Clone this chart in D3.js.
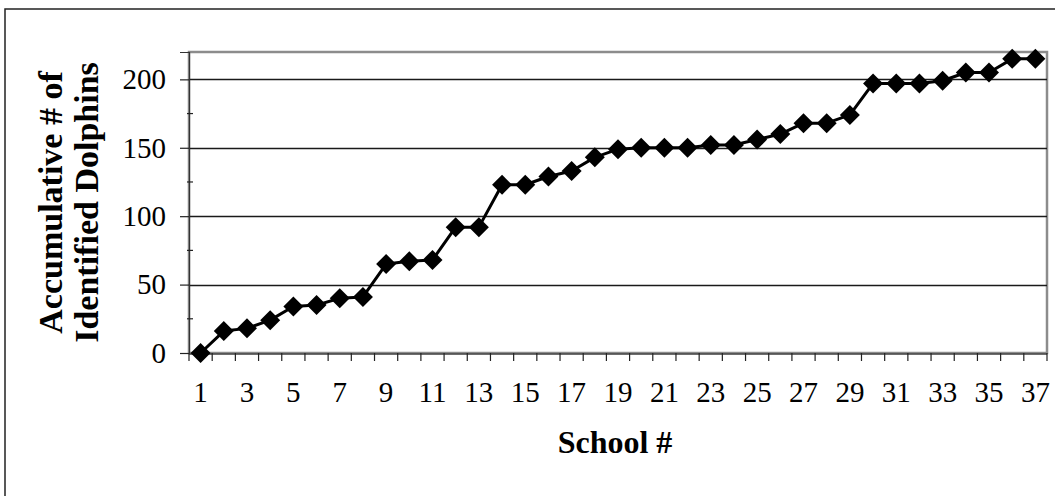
<!DOCTYPE html>
<html>
<head>
<meta charset="utf-8">
<script src="https://cdn.jsdelivr.net/npm/d3@7"></script>
<style>
  html, body { margin: 0; padding: 0; background: #fff; }
  svg { display: block; }
</style>
</head>
<body>
<svg id="chart" width="1055" height="496"></svg>
<script>
// ---- data ----
const schools = d3.range(1, 38);            // School # 1..37
const dolphins = [0, 16, 18, 24, 34, 35, 40, 41, 65, 67, 68, 92, 92, 123, 123, 129, 133, 143, 149, 150,
                  150, 150, 152, 152, 156, 160, 168, 168, 174, 197, 197, 197, 199, 205, 205, 215, 215];
const yTicks = [0, 50, 100, 150, 200];
const yMinorTicks = [25, 75, 125, 175];
const xLabelTicks = schools.filter(d => d % 2 === 1);
const yTitleLines = ["Accumulative # of", "Identified Dolphins"];
const xTitle = "School #";

const svg = d3.select("#chart");
const plot = { left: 189, right: 1047, top: 52, bottom: 353 };

// outer border (extends past right/bottom edges)
svg.append("rect").attr("x", 5).attr("y", 9).attr("width", 1070).attr("height", 510)
  .attr("fill", "none").attr("stroke", "#222").attr("stroke-width", 1.5);

const x = d3.scaleBand().domain(schools).range([plot.left, plot.right]);
const y = d3.scaleLinear().domain([0, 220]).range([plot.bottom, plot.top]);

// plot frame
svg.append("rect").attr("x", plot.left).attr("y", plot.top)
  .attr("width", plot.right - plot.left).attr("height", plot.bottom - plot.top)
  .attr("fill", "none").attr("stroke", "#8c8c8c").attr("stroke-width", 2.5);

// gridlines
svg.append("g").selectAll("line").data(yTicks.filter(d => d > 0)).join("line")
  .attr("x1", plot.left).attr("x2", plot.right)
  .attr("y1", d => Math.round(y(d)) + 0.5).attr("y2", d => Math.round(y(d)) + 0.5)
  .attr("stroke", "#1a1a1a").attr("stroke-width", 1.3);

// y axis
const yAxis = d3.axisLeft(y).tickValues(yTicks).tickSize(9).tickPadding(14).tickFormat(d3.format("d"));
const gy = svg.append("g").attr("transform", `translate(${plot.left},0)`).call(yAxis);
gy.select(".domain").attr("stroke", "#333").attr("stroke-width", 1.2);
gy.selectAll(".tick line").attr("stroke", "#222").attr("stroke-width", 1.2);
gy.selectAll("text").attr("font-family", "'Liberation Serif', 'Times New Roman', serif")
  .attr("font-size", 29).attr("fill", "#000");
// minor ticks (cross)
svg.append("g").selectAll("line").data(yMinorTicks).join("line")
  .attr("x1", plot.left - 2).attr("x2", plot.left + 4)
  .attr("y1", d => y(d)).attr("y2", d => y(d))
  .attr("stroke", "#222").attr("stroke-width", 1.2);

// x axis: ticks at category boundaries
svg.append("line").attr("x1", plot.left).attr("x2", plot.right)
  .attr("y1", plot.bottom + 1).attr("y2", plot.bottom + 1)
  .attr("stroke", "#444").attr("stroke-width", 1.5);
const boundaries = schools.map(d => x(d)).concat([x(schools[schools.length - 1]) + x.bandwidth()]);
svg.append("g").selectAll("line").data(boundaries).join("line")
  .attr("x1", d => d).attr("x2", d => d)
  .attr("y1", plot.bottom).attr("y2", plot.bottom + 8)
  .attr("stroke", "#222").attr("stroke-width", 1.2);
svg.append("g").selectAll("text").data(xLabelTicks).join("text")
  .attr("x", d => x(d) + x.bandwidth() / 2).attr("y", 402)
  .attr("text-anchor", "middle")
  .attr("font-family", "'Liberation Serif', 'Times New Roman', serif")
  .attr("font-size", 29).attr("fill", "#000")
  .text(d => d);

// line + markers
const cx = d => x(d) + x.bandwidth() / 2;
const pts = schools.map((s, i) => ({ s, v: dolphins[i] }));
svg.append("path").datum(pts)
  .attr("d", d3.line().x(d => cx(d.s)).y(d => y(d.v)))
  .attr("fill", "none").attr("stroke", "#000").attr("stroke-width", 3).attr("stroke-linejoin", "round");
svg.append("g").selectAll("path").data(pts).join("path")
  .attr("d", d3.symbol(d3.symbolSquare, 200))
  .attr("transform", d => `translate(${cx(d.s)},${y(d.v)}) rotate(45)`)
  .attr("fill", "#000");

// titles
const yt = svg.append("text")
  .attr("transform", `translate(0,${(plot.top + plot.bottom) / 2}) rotate(-90)`)
  .attr("text-anchor", "middle")
  .attr("font-family", "'Liberation Serif', 'Times New Roman', serif")
  .attr("font-weight", "bold").attr("font-size", 34).attr("fill", "#000");
yt.selectAll("tspan").data(yTitleLines).join("tspan")
  .attr("x", 0).attr("y", (d, i) => i === 0 ? 62 : 98)
  .text(d => d);

svg.append("text").attr("x", (plot.left + plot.right) / 2 - 3).attr("y", 453)
  .attr("text-anchor", "middle")
  .attr("font-family", "'Liberation Serif', 'Times New Roman', serif")
  .attr("font-weight", "bold").attr("font-size", 32).attr("fill", "#000")
  .text(xTitle);
</script>
</body>
</html>
